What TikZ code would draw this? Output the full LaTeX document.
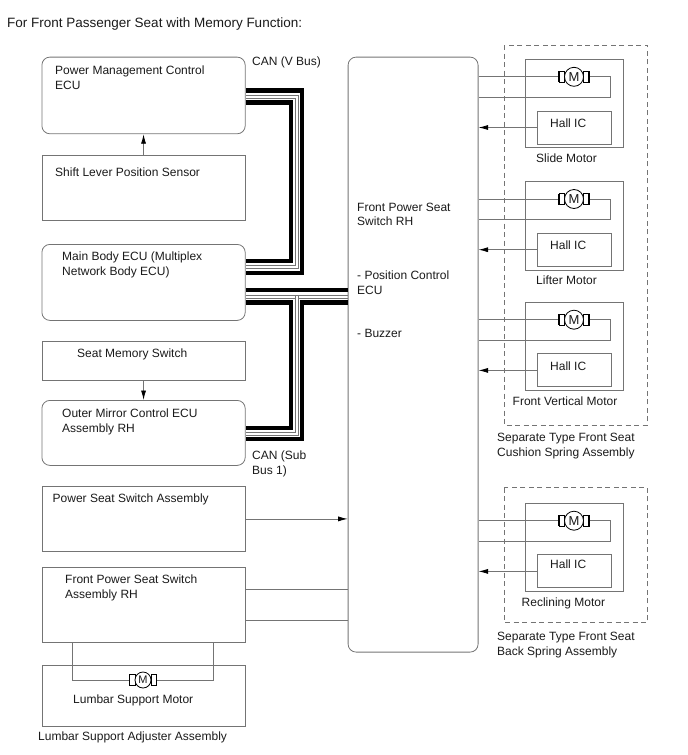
\documentclass[tikz,border=0pt]{standalone}
\usepackage{fontspec}
\setmainfont{Liberation Sans}
\usetikzlibrary{arrows.meta}
\definecolor{ln}{HTML}{747474}
\definecolor{tx}{HTML}{1A1A1A}
\tikzset{
  x=1pt,y=-1pt,
  box/.style={draw=ln,line width=0.8pt,fill=none},
  rbox/.style={box,rounded corners=8pt},
  wire/.style={draw=ln,line width=0.8pt},
  arr/.style={wire,-{Latex[length=9.5pt,width=5pt,black]}},
  bus/.style={draw=black,line width=4.2pt},
  thin/.style={draw=ln,line width=0.8pt},
  lab/.style={font=\fontsize{12pt}{14.3pt}\selectfont,text=tx,anchor=north west,inner sep=0pt,align=left,yshift=-2pt},
  mot/.style={circle,draw=black,line width=0.8pt,fill=white,inner sep=0pt,text=tx},
  dashbox/.style={draw=ln,line width=0.8pt,dash pattern=on 5pt off 3.5pt},
}
% motor symbol: name, x, y, radius, bracket width, letter size
\newcommand{\motorsym}[6]{%
  \draw[line width=0.8pt,fill=white] (#2-#4-#5,#3-5.5) rectangle (#2-#4,#3+5.5);
  \draw[line width=0.8pt,fill=white] (#2+#4,#3-5.5) rectangle (#2+#4+#5,#3+5.5);
  \draw[line width=1.3pt] (#2-#4-#5,#3-5.5) -- (#2-#4-#5,#3+5.5);
  \draw[line width=1.3pt] (#2+#4+#5,#3-5.5) -- (#2+#4+#5,#3+5.5);
  \node[mot,minimum size=2*#4 pt,font=\fontsize{#6pt}{#6pt}\selectfont] (#1) at (#2,#3) {M};
}
% motor group: prefix, top y of box, label, label x, Hall label offset
\newcommand{\motorgroup}[5]{%
  \node[box,minimum width=97.5pt,minimum height=88.5pt,inner sep=0pt,anchor=north west] (#1box) at (525.3,#2) {};
  \node[box,minimum width=73.5pt,minimum height=33pt,inner sep=0pt,anchor=north west] (#1hall) at (537,#2+51.7) {};
  \node[lab] (#1hlab) at (550,#2+#5) {Hall IC};
  \coordinate (#1a) at (cen.east |- {0,#2+18});
  \coordinate (#1b) at (cen.east |- {0,#2+38.5});
  \coordinate (#1r) at (610.5,#2+18);
  \coordinate (#1s) at (610.5,#2+38.5);
  \draw[wire] (#1a) -- (#1r) -- (#1s) -- (#1b);
  \motorsym{#1m}{574}{#2+18}{9.5}{5.5}{13}
  \draw[arr] (#1hall.west |- {0,#2+68.7}) -- (cen.east |- {0,#2+68.7});
  \node[lab] (#1lab) at (#4,#2+93) {#3};
}
\begin{document}
\begin{tikzpicture}
\useasboundingbox (0,0) rectangle (688,755);
\node[lab,font=\fontsize{13.5pt}{16pt}\selectfont] (title) at (7,15.5) {For Front Passenger Seat with Memory Function:};

% left column
\node[rbox,minimum width=203.3pt,minimum height=76.7pt,inner sep=0pt,anchor=north west] (pm) at (41.5,56.7) {};
\node[lab] (pmt) at (55,64) {Power Management Control\\ECU};
\node[box,minimum width=203.3pt,minimum height=65pt,inner sep=0pt,anchor=north west] (sl) at (41.5,155.3) {};
\node[lab] (slt) at (55,166) {Shift Lever Position Sensor};
\node[rbox,minimum width=203.3pt,minimum height=76pt,inner sep=0pt,anchor=north west] (mb) at (41.5,244) {};
\node[lab] (mbt) at (62,250) {Main Body ECU (Multiplex\\Network Body ECU)};
\node[box,minimum width=203.3pt,minimum height=39pt,inner sep=0pt,anchor=north west] (sm) at (41.5,341.3) {};
\node[lab] (smt) at (77,347) {Seat Memory Switch};
\node[rbox,minimum width=203.3pt,minimum height=65pt,inner sep=0pt,anchor=north west] (om) at (41.5,400) {};
\node[lab] (omt) at (62,407) {Outer Mirror Control ECU\\Assembly RH};
\node[box,minimum width=203.3pt,minimum height=64.4pt,inner sep=0pt,anchor=north west] (ps) at (41.5,486.3) {};
\node[lab] (pst) at (52.5,492) {Power Seat Switch Assembly};
\node[box,minimum width=203.3pt,minimum height=75.5pt,inner sep=0pt,anchor=north west] (fp) at (41.5,566.8) {};
\node[lab] (fpt) at (65,573) {Front Power Seat Switch\\Assembly RH};
\node[box,minimum width=203.3pt,minimum height=61pt,inner sep=0pt,anchor=north west] (la) at (41.5,665) {};
\node[lab] (lat) at (38,730) {Lumbar Support Adjuster Assembly};

% centre
\node[rbox,minimum width=130pt,minimum height=595pt,inner sep=0pt,anchor=north west] (cen) at (347.7,56.7) {};
\node[lab] (cent) at (357,201) {Front Power Seat\\Switch RH};
\node[lab] (cenb) at (357,269) {- Position Control\\ECU};
\node[lab] (cenc) at (357,327) {- Buzzer};

% CAN labels
\node[lab] (canv) at (252,55) {CAN (V Bus)};
\node[lab] (cans) at (252,449) {CAN (Sub\\Bus 1)};

% buses
\coordinate (pmA) at (pm.east |- {0,90.5});
\coordinate (pmB) at (pm.east |- {0,95});
\coordinate (pmC) at (pm.east |- {0,98});
\coordinate (pmD) at (pm.east |- {0,102.5});
\coordinate (mbA) at (mb.east |- {0,261});
\coordinate (mbB) at (mb.east |- {0,265.5});
\coordinate (mbC) at (mb.east |- {0,268.5});
\coordinate (mbD) at (mb.east |- {0,273});
\coordinate (mbE) at (mb.east |- {0,290});
\coordinate (mbF) at (mb.east |- {0,295});
\coordinate (mbG) at (mb.east |- {0,298});
\coordinate (mbH) at (mb.east |- {0,302.5});
\coordinate (omA) at (om.east |- {0,428});
\coordinate (omB) at (om.east |- {0,432.5});
\coordinate (omC) at (om.east |- {0,435.5});
\coordinate (omD) at (om.east |- {0,439});
\draw[bus] (pmA) -- (302,90.5) -- (302,273) -- (mbD);
\draw[bus] (pmD) -- (291.3,102.5) -- (291.3,261) -- (mbA);
\draw[thin] (pmB) -- (298,95) -- (298,268.5) -- (mbC);
\draw[thin] (pmC) -- (295.5,98) -- (295.5,265.5) -- (mbB);
\draw[bus] (mbE) -- (cen.west |- mbE);
\draw[bus] (mbH) -- (291.3,302.5) -- (291.3,428) -- (omA);
\draw[bus] (cen.west |- mbH) -- (302,302.5) -- (302,439) -- (omD);
\draw[thin] (mbF) -- (cen.west |- mbF);
\draw[thin] (mbG) -- (295.5,298) -- (295.5,432.5) -- (omB);
\draw[thin] (cen.west |- mbG) -- (298,298) -- (298,435.5) -- (omC);
\draw[thin] (295.5,295) -- (295.5,298);
\draw[thin] (298,295) -- (298,298);

% arrows left
\draw[arr] (sl.north) -- (pm.south);
\draw[arr] (sm.south) -- (om.north);
\draw[arr] (ps.east) -- (cen.west |- ps.east);
\draw[wire] (fp.east |- {0,589}) -- (cen.west |- {0,589});
\draw[wire] (fp.east |- {0,620}) -- (cen.west |- {0,620});

% lumbar motor
\coordinate (lu1) at (72.7,642.3);
\coordinate (lu2) at (72.7,680);
\coordinate (lu3) at (213.3,680);
\coordinate (lu4) at (213.3,642.3);
\draw[wire] (lu1) -- (lu2) -- (lu3) -- (lu4);
\motorsym{lum}{143}{680}{8}{5.5}{11}
\node[lab] (lut) at (73,692.5) {Lumbar Support Motor};

% dashed groups
\draw[dashbox] (504,45) rectangle (647.3,425);
\draw[dashbox] (504,487.5) rectangle (647.3,622.5);

\motorgroup{a}{58.8}{Slide Motor}{536}{57.5}
\motorgroup{b}{181}{Lifter Motor}{536}{57.5}
\motorgroup{c}{301.7}{Front Vertical Motor}{512.5}{57.5}
\motorgroup{d}{502.7}{Reclining Motor}{521.5}{55}

\node[lab] (g1) at (497,431) {Separate Type Front Seat\\[0.7pt]Cushion Spring Assembly};
\node[lab] (g2) at (497,629.5) {Separate Type Front Seat\\[0.7pt]Back Spring Assembly};
\end{tikzpicture}
\end{document}
